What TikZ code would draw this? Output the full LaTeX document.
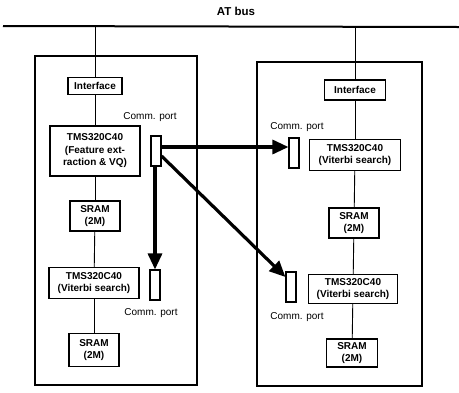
\documentclass[tikz,border=0pt]{standalone}
\usepackage{fontspec}
\setmainfont{Liberation Sans}
\usetikzlibrary{arrows.meta}
\begin{document}
\begin{tikzpicture}[x=1pt,y=-1pt,
  blk/.style={draw, line width=1.1pt, font=\bfseries\fontsize{10}{12.5}\selectfont, align=center, inner sep=0pt},
  port/.style={draw, line width=1.1pt, minimum width=10pt, minimum height=30pt, inner sep=0pt},
  lbl/.style={font=\fontsize{10}{11}\selectfont, inner sep=0pt},
  board/.style={draw, line width=1.3pt, inner sep=0pt},
  link/.style={line width=0.9pt},
  flow/.style={line width=3.2pt, -{Triangle[length=16pt,width=14pt]}}]
\useasboundingbox (0,0) rectangle (459,392);
% bus
\node[font=\bfseries\fontsize{11.5}{13}\selectfont] (atbus) at (236,11) {AT bus};
\coordinate (busL) at (3,26);
\coordinate (busR) at (459,27);
\draw[line width=2pt] (busL) -- (busR);
% boards
\node[board, minimum width=162pt, minimum height=329pt] (boardL) at (116,220.5) {};
\node[board, minimum width=165pt, minimum height=324pt] (boardR) at (339.5,224) {};
% left board blocks
\node[blk, minimum width=54pt, minimum height=17pt] (ifL) at (95,86) {Interface};
\node[blk, minimum width=90pt, minimum height=50pt] (tmsL1) at (95,151) {TMS320C40\\(Feature ext-\\raction \& VQ)};
\node[blk, minimum width=50pt, minimum height=30pt] (sramL1) at (95,216) {SRAM\\(2M)};
\node[blk, minimum width=90pt, minimum height=31pt] (tmsL2) at (94,283) {TMS320C40\\(Viterbi search)};
\node[blk, minimum width=50pt, minimum height=33pt] (sramL2) at (94,350) {SRAM\\(2M)};
\node[port] (portL1) at (156,151) {};
\node[port] (portL2) at (155,285) {};
\node[lbl] (cpL1) at (150,117) {Comm. port};
\node[lbl] (cpL2) at (151,313) {Comm. port};
% right board blocks
\node[blk, minimum width=61pt, minimum height=20pt] (ifR) at (355,90) {Interface};
\node[blk, minimum width=91pt, minimum height=31pt] (tmsR1) at (355,155) {TMS320C40\\(Viterbi search)};
\node[blk, minimum width=50pt, minimum height=30pt] (sramR1) at (354,223) {SRAM\\(2M)};
\node[blk, minimum width=89pt, minimum height=29pt] (tmsR2) at (353,289) {TMS320C40\\(Viterbi search)};
\node[blk, minimum width=51pt, minimum height=28pt] (sramR2) at (352,353) {SRAM\\(2M)};
\node[port] (portR1) at (294,153) {};
\node[port] (portR2) at (291,287) {};
\node[lbl] (cpR1) at (297,127) {Comm. port};
\node[lbl] (cpR2) at (297,317) {Comm. port};
% bus taps
\coordinate (tapL) at (95,26);
\coordinate (tapR) at (355,27);
\draw[link] (tapL) -- (ifL);
\draw[link] (tapR) -- (ifR);
% internal links
\draw[link] (ifL) -- (tmsL1);
\draw[link] (tmsL1) -- (sramL1);
\draw[link] (sramL1) -- (tmsL2);
\draw[link] (tmsL2) -- (sramL2);
\draw[link] (ifR) -- (tmsR1);
\draw[link] (tmsR1) -- (sramR1);
\draw[link] (sramR1) -- (tmsR2);
\draw[link] (tmsR2) -- (sramR2);
% data flow
\draw[flow] ([yshift=4pt]portL1.east) -- ([yshift=4pt]portL1.east -| portR1.west);
\draw[flow] ([yshift=-5pt]portL1.east) -- ([yshift=10pt]portR2.west);
\draw[flow] ([xshift=-1pt]portL1.south) -- (portL2.north);
\end{tikzpicture}
\end{document}
